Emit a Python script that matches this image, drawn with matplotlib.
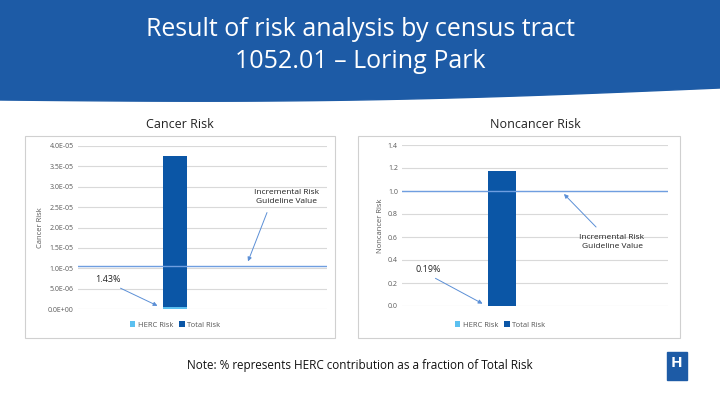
import matplotlib
matplotlib.use("Agg")
import matplotlib.pyplot as plt
import numpy as np
from matplotlib.patches import Polygon, Rectangle

plt.rcParams["font.family"] = "Open Sans"

cancer_total = [3.75e-5]
cancer_herc = [5.4e-7]
cancer_guideline = 1.05e-5
cancer_ticks = [0, 5e-6, 1e-5, 1.5e-5, 2e-5, 2.5e-5, 3e-5, 3.5e-5, 4e-5]
cancer_ticklabels = ["0.0E+00", "5.0E-06", "1.0E-05", "1.5E-05", "2.0E-05",
                     "2.5E-05", "3.0E-05", "3.5E-05", "4.0E-05"]
non_total = [1.17]
non_herc = [0.0022]
non_guideline = 1.0
non_ticks = [0, 0.2, 0.4, 0.6, 0.8, 1.0, 1.2, 1.4]
non_ticklabels = ["0.0", "0.2", "0.4", "0.6", "0.8", "1.0", "1.2", "1.4"]

W, H = 720, 405
fig = plt.figure(figsize=(7.2, 4.05), dpi=100)
fig.patch.set_facecolor("white")

def fy(y):
    return 1 - y / H

bg = fig.add_axes([0, 0, 1, 1])
bg.set_xlim(0, W); bg.set_ylim(H, 0); bg.axis("off")
xs = np.linspace(0, W, 100)
ys = 100 - 12 * xs / W + 6 * np.sin(np.pi * xs / W)
poly = np.vstack([[0, 0], [W, 0], np.column_stack([xs[::-1], ys[::-1]])])
bg.add_patch(Polygon(poly, closed=True, color="#1d5ba6"))
bg.text(360, 30, "Result of risk analysis by census tract", color="white",
        fontsize=18, ha="center", va="center")
bg.text(360, 62, "1052.01 \u2013 Loring Park", color="white",
        fontsize=18, ha="center", va="center")
bg.add_patch(Rectangle((25, 136), 310, 202, fill=False, ec="#d0d0d0", lw=0.8))
bg.add_patch(Rectangle((358, 136), 322, 202, fill=False, ec="#d0d0d0", lw=0.8))
bg.text(180, 124, "Cancer Risk", fontsize=9, ha="center", va="center", color="#222222")
bg.text(535, 124, "Noncancer Risk", fontsize=9, ha="center", va="center", color="#222222")
bg.text(360, 365, "Note: % represents HERC contribution as a fraction of Total Risk",
        fontsize=8.5, ha="center", va="center", color="#111111")
bg.add_patch(Rectangle((667, 352), 20, 28, color="#1d5ba6"))
bg.text(677, 363, "H", color="white", fontsize=11, ha="center", va="center", weight="bold")

def make_ax(left, right, top, bottom):
    return fig.add_axes([left / W, fy(bottom), (right - left) / W, (bottom - top) / H])

def style(ax, ticks, labels, ymax, ylabel):
    ax.set_ylim(0, ymax)
    ax.set_yticks(ticks)
    ax.set_yticklabels(labels, fontsize=5, color="#595959")
    ax.set_xticks([])
    ax.patch.set_alpha(0)
    for s in ax.spines.values():
        s.set_visible(False)
    ax.grid(axis="y", color="#d9d9d9", lw=0.8)
    ax.set_axisbelow(True)
    ax.tick_params(axis="y", length=0, pad=3)
    ax.set_ylabel(ylabel, fontsize=5.5, color="#595959", labelpad=3)

ax1 = make_ax(78, 327, 146, 309)
ax1.set_xlim(-0.39, 0.61)
ax1.bar([0], cancer_total, width=0.096, color="#0b56a6", label="Total Risk", zorder=2)
ax1.bar([0], cancer_herc, width=0.096, color="#5bc0f0", label="HERC Risk", zorder=3)
ax1.axhline(cancer_guideline, color="#6f9ee0", lw=1, zorder=4)
style(ax1, cancer_ticks, cancer_ticklabels, 4.0e-5, "Cancer Risk")

ax2 = make_ax(402, 668, 145, 306)
ax2.set_xlim(-0.376, 0.624)
ax2.bar([0], non_total, width=0.105, color="#0b56a6", label="Total Risk", zorder=2)
ax2.bar([0], non_herc, width=0.105, color="#5bc0f0", label="HERC Risk", zorder=3)
ax2.axhline(non_guideline, color="#6f9ee0", lw=1, zorder=4)
style(ax2, non_ticks, non_ticklabels, 1.4, "Noncancer Risk")

for ax, cx in ((ax1, 175), (ax2, 500)):
    h, l = ax.get_legend_handles_labels()
    leg = fig.legend(h[::-1], l[::-1], loc="center", bbox_to_anchor=(cx / W, fy(325)),
                     ncol=2, frameon=False, fontsize=5.5, handlelength=0.7,
                     handleheight=0.7, columnspacing=0.8, handletextpad=0.3)
    for t in leg.get_texts():
        t.set_color("#595959")

ov = fig.add_axes([0, 0, 1, 1])
ov.set_xlim(0, W); ov.set_ylim(H, 0); ov.axis("off"); ov.patch.set_alpha(0)
arrow = dict(arrowstyle="-|>", color="#5b8fd6", lw=0.7, mutation_scale=6)
def note(txy, axy):
    ov.annotate("", xy=axy, xytext=txy, arrowprops=arrow)
ov.text(287, 197, "Incremental Risk\nGuideline Value", fontsize=6, ha="center", va="center",
        color="#222222", linespacing=1.4)
note((268, 210), (247, 264))
ov.text(108, 280, "1.43%", fontsize=6.5, ha="center", va="center", color="#222222")
note((118, 287), (160, 307))
ov.text(612, 242, "Incremental Risk\nGuideline Value", fontsize=6, ha="center", va="center",
        color="#222222", linespacing=1.4)
note((598, 229), (562, 192))
ov.text(428, 269, "0.19%", fontsize=6.5, ha="center", va="center", color="#222222")
note((433, 277), (485, 305))

fig.savefig("out.png", dpi=100)
